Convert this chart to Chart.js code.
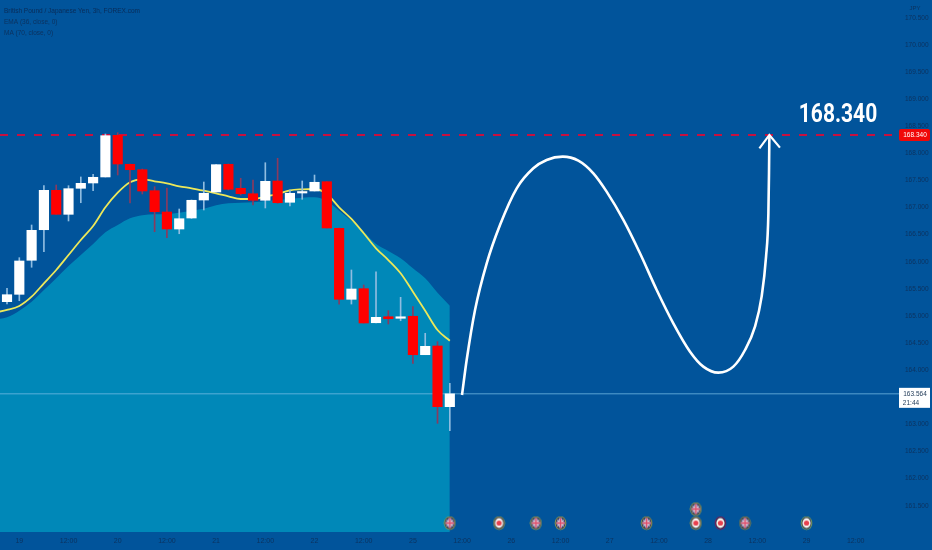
<!DOCTYPE html>
<html lang="en">

<head>
  <meta charset="utf-8">
  <title>British Pound / Japanese Yen, 3h</title>
  <script src="https://cdn.jsdelivr.net/npm/chart.js"></script>
  <style>
    body { margin: 0; background: #01549b; }
    canvas { display: block; }
  </style>
</head>

<body>
  <canvas id="chart" width="932" height="550"></canvas>

  <script>
    // candles, one per 3h bar
    const opens = [165.264, 165.400, 166.028, 166.592, 167.319, 166.876, 167.356, 167.454, 167.565, 168.334, 167.799, 167.699, 167.312, 166.919, 166.605, 166.808, 167.140, 167.288, 167.799, 167.356, 167.256, 167.135, 167.491, 167.098, 167.269, 167.306, 167.478, 166.618, 165.308, 165.504, 164.876, 164.987, 164.958, 164.995, 164.286, 164.447, 163.327];
    const closes = [165.393, 166.015, 166.581, 167.319, 166.876, 167.349, 167.448, 167.559, 168.327, 167.804, 167.699, 167.306, 166.924, 166.605, 166.795, 167.135, 167.264, 167.792, 167.338, 167.256, 167.135, 167.485, 167.090, 167.264, 167.288, 167.467, 166.624, 165.308, 165.498, 164.871, 164.976, 164.950, 164.982, 164.286, 164.441, 163.327, 163.564];
    const highs = [165.511, 166.076, 166.679, 167.404, 167.417, 167.404, 167.565, 167.614, 168.358, 168.382, 167.804, 167.712, 167.386, 167.362, 166.974, 167.140, 167.472, 167.792, 167.804, 167.541, 167.509, 167.828, 167.910, 167.325, 167.491, 167.601, 167.478, 166.624, 165.849, 165.572, 165.817, 165.098, 165.345, 165.172, 164.681, 164.526, 163.758];
    const lows = [165.221, 165.282, 165.899, 166.186, 166.876, 166.753, 167.090, 167.312, 167.565, 167.601, 167.085, 167.251, 166.555, 166.445, 166.518, 166.800, 166.956, 167.288, 167.325, 167.232, 167.048, 166.993, 167.079, 167.030, 167.153, 167.306, 166.624, 165.216, 165.221, 164.871, 164.871, 164.852, 164.913, 164.127, 164.286, 163.020, 162.884];

    // indicators, the first value sits one bar left of the first candle
    const maValues = [164.935, 164.976, 165.098, 165.264, 165.480, 165.696, 165.923, 166.125, 166.328, 166.544, 166.679, 166.803, 166.858, 166.876, 166.882, 166.906, 166.943, 166.980, 167.042, 167.079, 167.090, 167.098, 167.122, 167.140, 167.159, 167.183, 167.190, 167.122, 166.943, 166.758, 166.555, 166.328, 166.199, 166.065, 165.880, 165.696, 165.430, 165.190];
    const emaValues = [165.065, 165.111, 165.185, 165.356, 165.603, 165.849, 166.125, 166.402, 166.661, 167.006, 167.275, 167.467, 167.522, 167.485, 167.448, 167.393, 167.356, 167.312, 167.264, 167.209, 167.159, 167.159, 167.201, 167.251, 167.319, 167.338, 167.343, 167.251, 167.006, 166.790, 166.526, 166.249, 166.033, 165.788, 165.448, 165.098, 164.742, 164.544];

    // hand drawn projection
    const drawingIdx = [36.99, 37.37, 38.05, 39.00, 40.08, 41.44, 42.79, 43.87, 45.18, 46.45, 47.67, 48.75, 50.11, 51.46, 52.82, 54.17, 55.53, 56.61, 57.83, 59.05, 60.00, 60.81, 61.35, 61.71, 61.90, 61.95, 61.98];
    const drawingPrice = [163.543, 164.188, 165.111, 165.972, 166.679, 167.356, 167.725, 167.879, 167.940, 167.866, 167.632, 167.294, 166.772, 166.157, 165.480, 164.865, 164.342, 164.066, 163.955, 164.066, 164.373, 164.804, 165.357, 166.095, 166.894, 167.632, 168.340];
    const arrowIdx = [61.17, 61.98, 62.84];
    const arrowPrice = [168.094, 168.340, 168.106];

    const targetPrice = 168.340;
    const lastPrice = 163.564;
    const countdown = '21:44';

    // economic calendar events
    const ukEventIdx = [36, 43, 45, 52, 56, 60];
    const ukEventPrice = [161.181, 161.181, 161.181, 161.181, 161.439, 161.181];
    const ukEventRing = ['#a39c48', '#a8a850', '#a8a850', '#a39c48', '#a8a850', '#8f8a48'];
    const jpEventIdx = [40, 56, 58, 65];
    const jpEventPrice = [161.181, 161.181, 161.181, 161.181];
    const jpEventRing = ['#a39c48', '#a39c48', '#7a1f62', '#86a860'];

    const xTickIdx = [1, 5, 9, 13, 17, 21, 25, 29, 33, 37, 41, 45, 49, 53, 57, 61, 65, 69];
    const xTickLabels = ['19', '12:00', '20', '12:00', '21', '12:00', '22', '12:00', '25', '12:00', '26', '12:00', '27', '12:00', '28', '12:00', '29', '12:00'];
    const yTicks = [170.5, 170, 169.5, 169, 168.5, 168, 167.5, 167, 166.5, 166, 165.5, 165, 164.5, 164, 163, 162.5, 162, 161.5];

    const legendLines = ['British Pound / Japanese Yen, 3h, FOREX.com', 'EMA (36, close, 0)', 'MA (70, close, 0)'];

    const xMin = -0.57, xMax = 72.6;
    const axisColor = '#0c3360';

    function eventIcon(ring, flag) {
      let c = document.createElement('canvas');
      c.width = 13;
      c.height = 15;
      let g = c.getContext('2d');
      g.beginPath();
      g.ellipse(6.5, 7.5, 5.8, 6.8, 0, 0, Math.PI * 2);
      g.fillStyle = ring;
      g.fill();
      g.beginPath();
      g.ellipse(6.5, 7.5, 4.9, 5.9, 0, 0, Math.PI * 2);
      g.fillStyle = '#2a2c44';
      g.fill();
      g.beginPath();
      g.ellipse(6.5, 7.5, 4.1, 5.1, 0, 0, Math.PI * 2);
      g.fillStyle = flag ? '#4a5a90' : '#f8f4f0';
      g.fill();
      g.save();
      g.clip();
      if (flag) {
        g.strokeStyle = '#e6d4dc';
        g.lineWidth = 1.2;
        g.beginPath();
        g.moveTo(1, 2); g.lineTo(12, 13);
        g.moveTo(12, 2); g.lineTo(1, 13);
        g.stroke();
        g.lineWidth = 2.6;
        g.beginPath();
        g.moveTo(6.5, 1); g.lineTo(6.5, 14);
        g.moveTo(1, 7.5); g.lineTo(12, 7.5);
        g.stroke();
        g.strokeStyle = '#e04a68';
        g.lineWidth = 1.4;
        g.stroke();
      } else {
        g.fillStyle = '#e8404e';
        g.beginPath();
        g.arc(6.5, 7.5, 2.6, 0, Math.PI * 2);
        g.fill();
      }
      g.restore();
      return c;
    }

    const chartText = {
      id: 'chartText',
      afterDraw(chart) {
        let ctx = chart.ctx;
        let y = chart.scales.y;
        ctx.save();

        ctx.textBaseline = 'middle';
        ctx.textAlign = 'left';
        ctx.fillStyle = '#0a2c58';
        ctx.font = '6.5px "Liberation Sans"';
        ctx.fillText(legendLines[0], 4, 11);
        ctx.fillStyle = axisColor;
        ctx.fillText(legendLines[1], 4, 22);
        ctx.fillText(legendLines[2], 4, 33);

        ctx.textAlign = 'center';
        ctx.font = '6px "Liberation Sans"';
        ctx.fillText('JPY', 915, 8);

        // target price big label, squeezed to the narrow look of the original
        ctx.save();
        ctx.translate(838, y.getPixelForValue(targetPrice) - 19.5);
        ctx.scale(0.84, 1);
        ctx.fillStyle = '#ffffff';
        ctx.font = 'bold 25px Roboto';
        ctx.fillText(targetPrice.toFixed(3), 0, 0);
        ctx.restore();

        // price tags on the axis
        let ty = y.getPixelForValue(targetPrice);
        ctx.fillStyle = '#f00808';
        ctx.beginPath();
        ctx.roundRect(899, ty - 6, 31, 12, 2);
        ctx.fill();
        ctx.fillStyle = '#ffffff';
        ctx.font = '6.5px "Liberation Sans"';
        ctx.fillText(targetPrice.toFixed(3), 915, ty + 0.5);

        let ly = y.getPixelForValue(lastPrice);
        ctx.fillStyle = '#ffffff';
        ctx.fillRect(899, ly - 6, 31, 20);
        ctx.fillStyle = '#1c3654';
        ctx.fillText(lastPrice.toFixed(3), 915, ly);
        ctx.fillText(countdown, 911, ly + 9);

        ctx.restore();
      }
    };

    const idx = opens.map((v, i) => i);
    const lineIdx = maValues.map((v, i) => i - 1);
    const isUp = i => closes[i] >= opens[i];

    new Chart(document.getElementById('chart'), {
      type: 'line',
      plugins: [chartText],
      data: {
        datasets: [
          {
            type: 'scatter',
            data: ukEventIdx.map((v, i) => ({ x: v, y: ukEventPrice[i] })),
            pointStyle: ukEventRing.map(r => eventIcon(r, true)),
            order: 1
          },
          {
            type: 'scatter',
            data: jpEventIdx.map((v, i) => ({ x: v, y: jpEventPrice[i] })),
            pointStyle: jpEventRing.map(r => eventIcon(r, false)),
            order: 1
          },
          {
            data: drawingIdx.map((v, i) => ({ x: v, y: drawingPrice[i] })),
            borderColor: '#ffffff',
            borderWidth: 2.6,
            cubicInterpolationMode: 'monotone',
            pointRadius: 0,
            order: 2
          },
          {
            data: arrowIdx.map((v, i) => ({ x: v, y: arrowPrice[i] })),
            borderColor: '#ffffff',
            borderWidth: 2.2,
            pointRadius: 0,
            order: 2
          },
          {
            type: 'bar',
            data: idx.map(i => ({ x: i, y: [opens[i], closes[i]] })),
            backgroundColor: ctx => isUp(ctx.dataIndex) ? '#ffffff' : '#ff0000',
            barThickness: 9.5,
            minBarLength: 1.5,
            grouped: false,
            order: 3
          },
          {
            type: 'bar',
            data: idx.map(i => ({ x: i, y: [lows[i], highs[i]] })),
            backgroundColor: ctx => isUp(ctx.dataIndex) ? '#8fbce0' : '#8a3a5e',
            barThickness: 1,
            grouped: false,
            order: 4
          },
          {
            data: [{ x: xMin, y: targetPrice }, { x: xMax, y: targetPrice }],
            borderColor: '#c8103f',
            borderWidth: 2,
            borderDash: [8, 9],
            pointRadius: 0,
            order: 5
          },
          {
            data: [{ x: xMin, y: lastPrice }, { x: xMax, y: lastPrice }],
            borderColor: 'rgba(120, 190, 230, 0.75)',
            borderWidth: 1,
            pointRadius: 0,
            order: 5
          },
          {
            data: lineIdx.map((v, i) => ({ x: v, y: emaValues[i] })),
            borderColor: '#ece85a',
            borderWidth: 1.8,
            cubicInterpolationMode: 'monotone',
            pointRadius: 0,
            order: 6
          },
          {
            data: lineIdx.map((v, i) => ({ x: v, y: maValues[i] })),
            borderWidth: 0,
            backgroundColor: '#0088b8',
            fill: 'start',
            cubicInterpolationMode: 'monotone',
            pointRadius: 0,
            order: 7
          }
        ]
      },
      options: {
        responsive: false,
        animation: false,
        layout: { padding: 0, autoPadding: false },
        plugins: {
          legend: { display: false },
          tooltip: { enabled: false },
          title: { display: false }
        },
        scales: {
          x: {
            type: 'linear',
            min: xMin,
            max: xMax,
            offset: false,
            grid: { display: false, drawTicks: false },
            border: { display: false },
            afterFit: s => { s.height = 18; s.paddingLeft = 0; s.paddingRight = 0; },
            afterBuildTicks: s => { s.ticks = xTickIdx.map(v => ({ value: v })); },
            ticks: {
              autoSkip: false,
              maxRotation: 0,
              padding: 5,
              color: axisColor,
              font: { family: 'Liberation Sans', size: 7 },
              callback: (v, i) => xTickLabels[i]
            }
          },
          y: {
            position: 'right',
            min: 161.015,
            max: 170.83,
            grid: { display: false, drawTicks: false },
            border: { display: false },
            afterFit: s => { s.width = 32; s.paddingTop = 0; s.paddingBottom = 0; },
            afterBuildTicks: s => { s.ticks = yTicks.map(v => ({ value: v })); },
            ticks: {
              autoSkip: false,
              padding: 5,
              color: axisColor,
              font: { family: 'Liberation Sans', size: 6.5 },
              callback: v => v.toFixed(3)
            }
          }
        }
      }
    });
  </script>
</body>

</html>
